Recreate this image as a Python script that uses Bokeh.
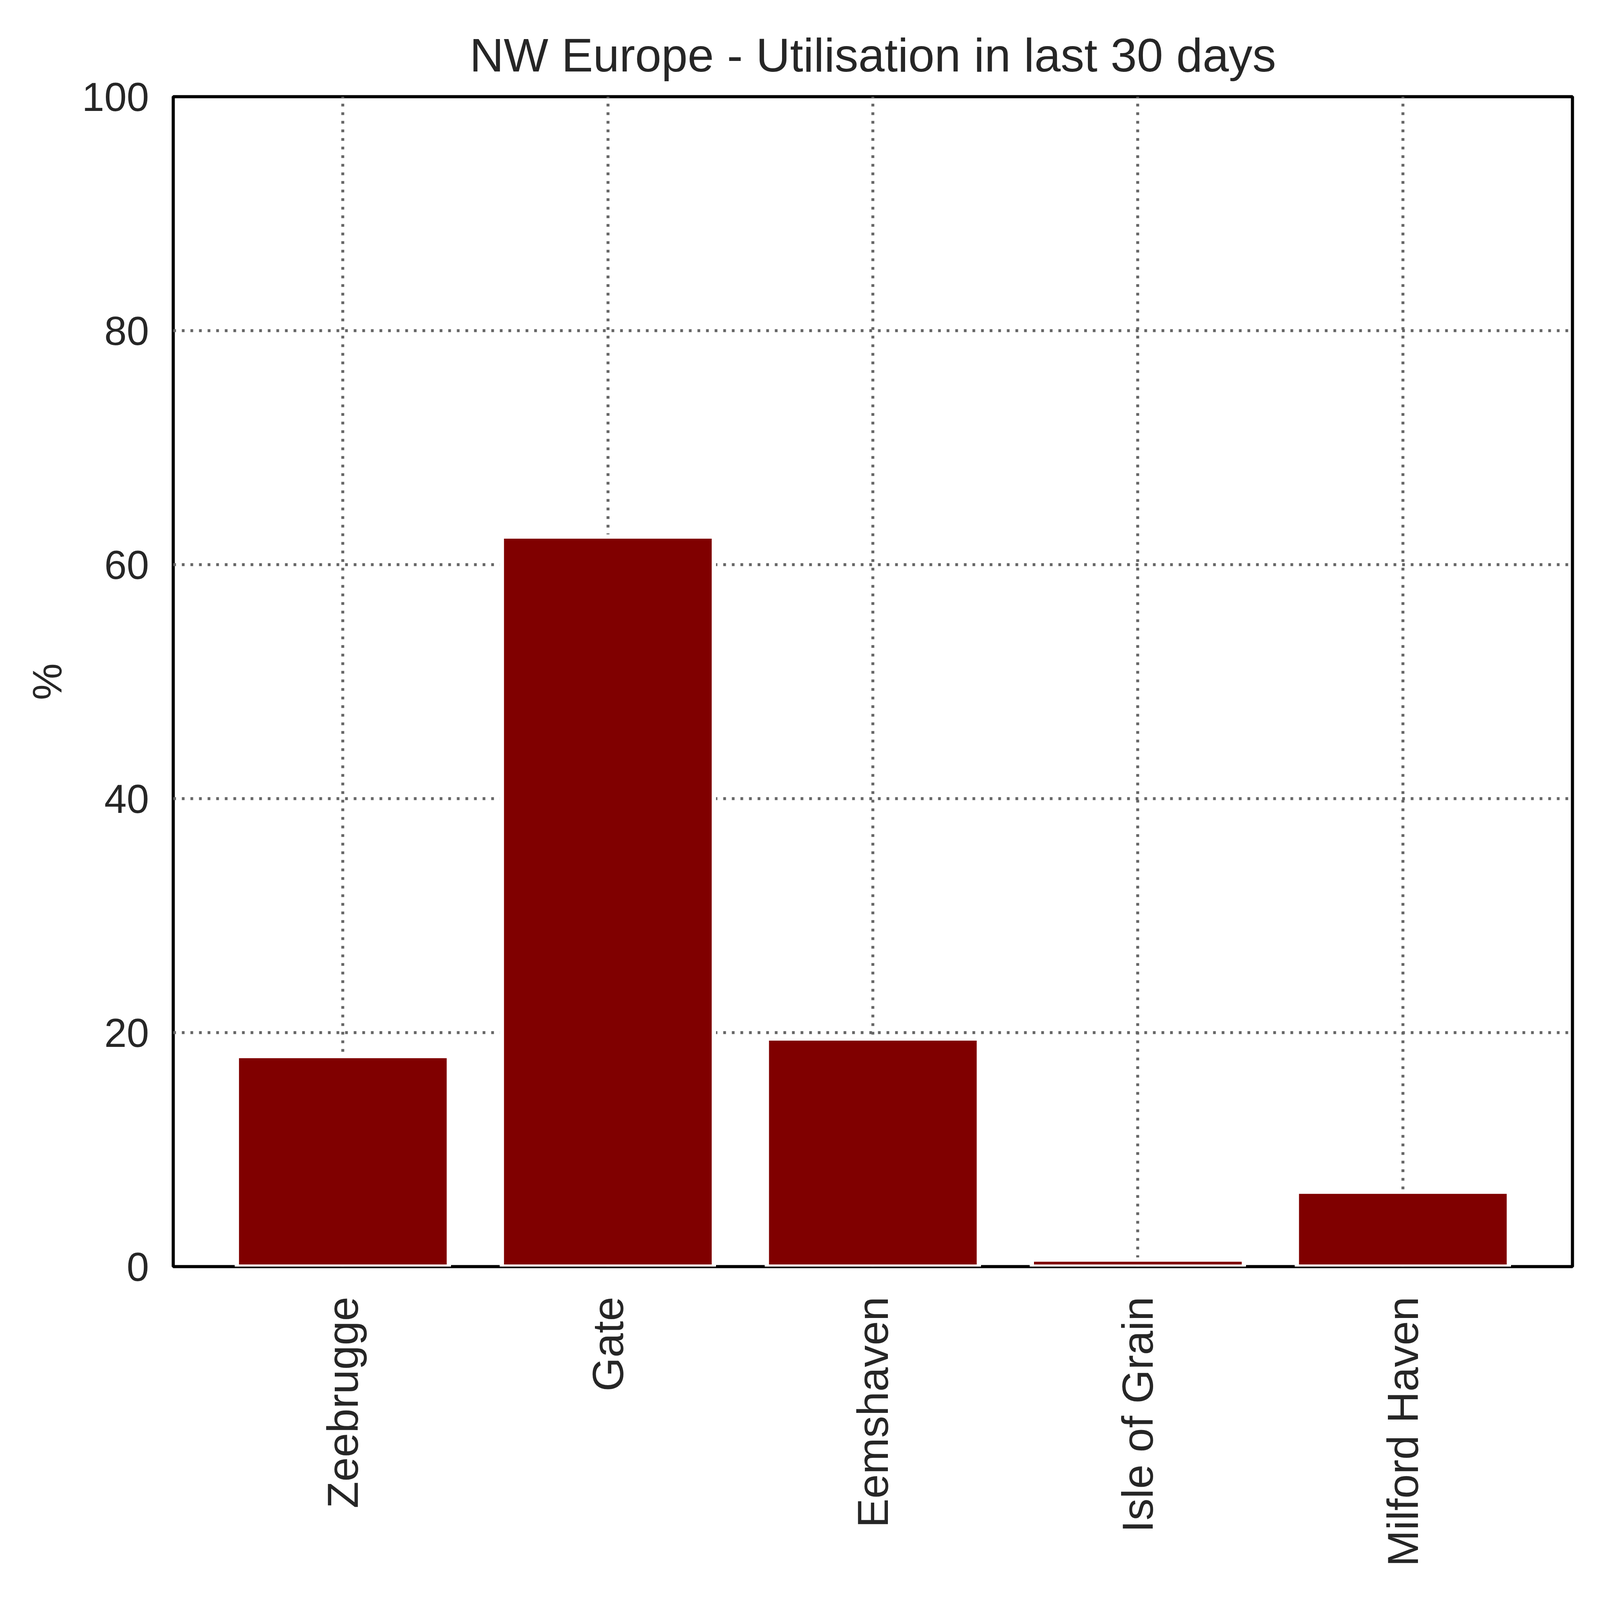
import math
from bokeh.plotting import figure
from bokeh.models import Range1d, FixedTicker, ColumnDataSource
from bokeh.embed import file_html
from bokeh.resources import INLINE

# ---- data ----
terminals = ["Zeebrugge", "Gate", "Eemshaven", "Isle of Grain", "Milford Haven"]
utilisation = [18.0, 62.4, 19.5, 0.6, 6.4]
y_ticks = [0, 20, 40, 60, 80, 100]
title_text = "NW Europe - Utilisation in last 30 days"
y_label = "%"

positions = list(range(len(terminals)))
src = ColumnDataSource(dict(x=positions, top=utilisation, name=terminals))

FONT = "Liberation Sans"
TXT = "#262626"

p = figure(
    x_range=Range1d(-0.64, len(terminals) - 1 + 0.64),
    y_range=Range1d(0, 100),
    frame_width=3582, frame_height=2995,
    min_border_left=443, min_border_right=55,
    min_border_top=247, min_border_bottom=838,
    output_backend="svg", toolbar_location=None,
    title=title_text,
)
p.background_fill_color = "white"
p.border_fill_color = "white"

p.vbar(x="x", top="top", bottom=0, width=0.8, source=src,
       fill_color="#800000", line_color="white", line_width=11)

# title
p.title.text_font = FONT
p.title.text_font_size = "121px"
p.title.text_font_style = "normal"
p.title.text_color = TXT
p.title.align = "center"
p.title.standoff = 78

# outline frame
p.outline_line_color = "black"
p.outline_line_width = 8
p.outline_line_alpha = 1.0

# axes
for ax in (p.xaxis[0], p.yaxis[0]):
    ax.axis_line_color = None
    ax.major_tick_line_color = None
    ax.minor_tick_line_color = None
    ax.major_tick_out = 0
    ax.major_tick_in = 0
    ax.minor_tick_out = 0
    ax.minor_tick_in = 0
    ax.major_label_text_font = FONT
    ax.major_label_text_color = TXT

p.xaxis.ticker = FixedTicker(ticks=positions)
p.xaxis.major_label_overrides = {i: t for i, t in zip(positions, terminals)}
p.xaxis.major_label_orientation = math.pi / 2
p.xaxis.major_label_text_font_size = "112px"
p.xaxis.major_label_standoff = 77

p.yaxis.ticker = FixedTicker(ticks=y_ticks)
p.yaxis.major_label_text_font_size = "103px"
p.yaxis.major_label_standoff = 62
p.yaxis.axis_label = y_label
p.yaxis.axis_label_text_font = FONT
p.yaxis.axis_label_text_font_size = "106px"
p.yaxis.axis_label_text_font_style = "normal"
p.yaxis.axis_label_text_color = TXT
p.yaxis.axis_label_standoff = 28

# grid
p.xgrid.ticker = FixedTicker(ticks=positions)
p.ygrid.ticker = FixedTicker(ticks=y_ticks)
for g in (p.xgrid[0], p.ygrid[0]):
    g.grid_line_color = "#666666"
    g.grid_line_width = 7.5
    g.grid_line_dash = "7 15"
    g.grid_line_alpha = 1.0

open("out.html", "w").write(file_html(p, INLINE))
